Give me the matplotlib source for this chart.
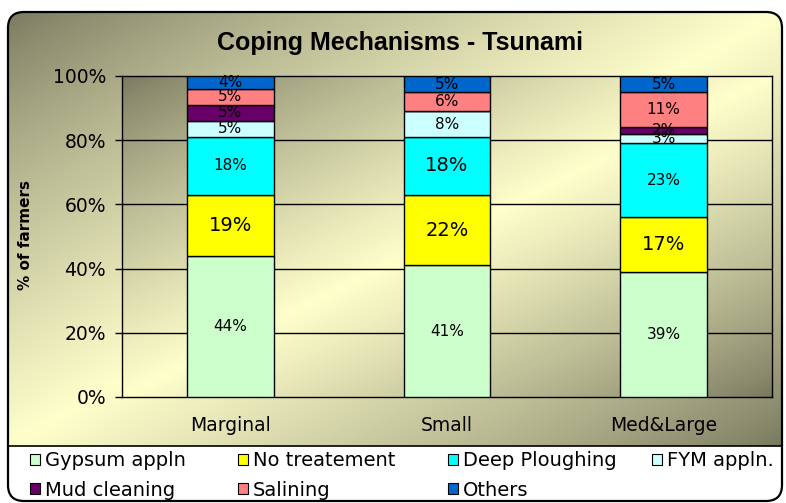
import numpy as np
import matplotlib
matplotlib.use('Agg')
import matplotlib.pyplot as plt
from matplotlib.patches import FancyBboxPatch, Patch

# ---------------- data ----------------
categories = ['Marginal', 'Small', 'Med&Large']
series_names = ['Gypsum appln', 'No treatement', 'Deep Ploughing', 'FYM appln.',
                'Mud cleaning', 'Salining', 'Others']
gypsum = [44, 41, 39]
no_treatment = [19, 22, 17]
deep_ploughing = [18, 18, 23]
fym = [5, 8, 3]
mud_cleaning = [5, 0, 2]
salining = [5, 6, 11]
others = [4, 5, 5]
yticks = [0, 20, 40, 60, 80, 100]
ytick_labels = ['0%', '20%', '40%', '60%', '80%', '100%']

series_values = [gypsum, no_treatment, deep_ploughing, fym, mud_cleaning, salining, others]

# ---------------- style ----------------
colors = ['#CCFFCC', '#FFFF00', '#00FFFF', '#CCFFFF', '#660066', '#FF8080', '#0066CC']
big_labels = {(0, 1), (1, 1), (1, 2), (2, 1)}   # (category, series) drawn larger
W, H = 786, 503
dark = np.array([0.47, 0.47, 0.37])
light = np.array([1.0, 1.0, 0.80])


def diag_gradient(nx, ny, gamma=0.8):
    u = np.linspace(0, 1, nx)[None, :]
    v = np.linspace(0, 1, ny)[:, None]
    t = u + v
    f = np.clip(1 - np.abs(1 - t), 0, 1) ** gamma
    return dark[None, None, :] + (light - dark)[None, None, :] * f[..., None]


fig = plt.figure(figsize=(W / 100, H / 100), dpi=100)
fig.patch.set_facecolor('white')

# background chart area
bg = fig.add_axes([0, 0, 1, 1], zorder=-10)
bg.set_xlim(0, W)
bg.set_ylim(H, 0)
bg.axis('off')
box = FancyBboxPatch((8, 12), 774, 489, boxstyle='round,pad=0,rounding_size=16',
                     facecolor='white', edgecolor='none', zorder=0)
bg.add_patch(box)
im = bg.imshow(diag_gradient(300, 200), extent=(8, 782, 446, 12), aspect='auto',
               origin='upper', zorder=1, interpolation='bilinear')
im.set_clip_path(box)
ln, = bg.plot([8, 782], [446, 446], color='black', lw=1.2, zorder=2)
ln.set_clip_path(box)
bg.add_patch(FancyBboxPatch((8, 12), 774, 489, boxstyle='round,pad=0,rounding_size=16',
                            facecolor='none', edgecolor='black', lw=1.6, zorder=3))

# main axes
ax = fig.add_axes([122 / W, (H - 397) / H, 650 / W, 321 / H])
ax.set_xlim(-0.5, 2.5)
ax.set_ylim(0, 100)
ax.imshow(diag_gradient(300, 200), extent=(-0.5, 2.5, 0, 100), aspect='auto',
          origin='upper', zorder=0, interpolation='bilinear')
for g in yticks[1:-1]:
    ax.axhline(g, color='black', lw=1.0, zorder=1)

x = np.arange(len(categories))
bottom = np.zeros(len(categories))
for si, (name, vals) in enumerate(zip(series_names, series_values)):
    vals = np.array(vals, dtype=float)
    ax.bar(x, vals, 0.4, bottom=bottom, color=colors[si], edgecolor='black',
           linewidth=1.0, label=name, zorder=3)
    for ci, v in enumerate(vals):
        if v > 0:
            size = 14 if (ci, si) in big_labels else 11
            ax.text(x[ci], bottom[ci] + v / 2, f'{int(v)}%', ha='center', va='center',
                    fontsize=size, color='black', zorder=4)
    bottom += vals

for sp in ax.spines.values():
    sp.set_color('black')
    sp.set_linewidth(1.0)
ax.set_yticks(yticks)
ax.set_yticklabels(ytick_labels)
ax.tick_params(axis='y', length=5, width=1, pad=6.5, labelsize=13.5, direction='out')
ax.set_xticks(x)
ax.set_xticklabels(categories)
ax.tick_params(axis='x', length=0, pad=14, labelsize=13.5)
ax.set_ylabel('% of farmers', fontsize=11, fontweight='bold')
ax.yaxis.set_label_coords((33 - 122) / 650, 0.505)

fig.text(400 / W, 1 - 43 / H, 'Coping Mechanisms - Tsunami', ha='center', va='center',
         fontsize=18, fontweight='bold', family=['Liberation Sans', 'DejaVu Sans'])

# legend: four columns placed at measured positions
handles = [Patch(facecolor=c, edgecolor='black', lw=0.8) for c in colors]
col_x = [30, 238, 448, 652]
for col in range(4):
    idx = [i for i in (col, col + 4) if i < len(series_names)]
    leg = fig.legend([handles[i] for i in idx], [series_names[i] for i in idx],
                     loc='upper left', bbox_to_anchor=(col_x[col] / W, 1 - 451 / H),
                     frameon=False, fontsize=14, handlelength=0.5, handleheight=0.5,
                     handletextpad=0.25, labelspacing=0.55, borderpad=0, borderaxespad=0)

fig.savefig('out.png', dpi=100, facecolor='white')
